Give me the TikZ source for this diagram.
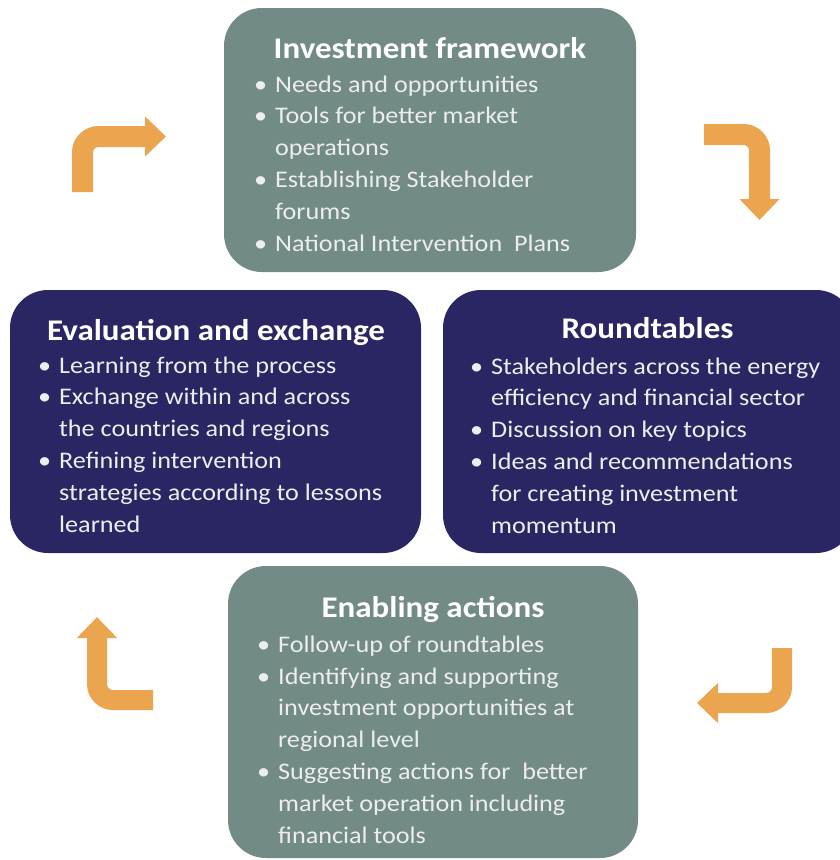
\documentclass[tikz,border=0pt]{standalone}
\usepackage{fontspec}
\usepackage{xcolor}
\setmainfont{Carlito}
\newfontfamily\boxfont{Carlito}[FakeStretch=1.1]
\usetikzlibrary{arrows.meta}
\definecolor{slate}{HTML}{738B87}
\definecolor{navy}{HTML}{2A2663}
\definecolor{amber}{HTML}{EBA54F}
\newcommand{\bul}{\makebox[21pt][l]{\textbullet}}
\newcommand{\gap}{\hspace*{21pt}}

\begin{document}
\begin{tikzpicture}[x=1pt, y=-1pt,
	box/.style={rounded corners=38pt, minimum width=411pt, minimum height=263pt, inner sep=0pt},
	head/.style={font=\boxfont\fontsize{30}{36}\selectfont\bfseries, text=white, anchor=base, inner sep=0pt},
	items/.style={font=\boxfont\fontsize{23.8}{31.8}\selectfont, text=white!93!black, align=left, anchor=base west, inner sep=0pt},
	turn/.style={draw=amber, line width=21pt, rounded corners=16pt, -{Triangle[length=21pt,width=39pt]}}]
	\useasboundingbox (0,0) rectangle (840,860);
	
	\node[box, fill=slate, minimum width=412pt, minimum height=264pt](framework) at (430,140){};
	\node[box, fill=navy](evaluation) at (215.5,421.5){};
	\node[box, fill=navy](roundtables) at (648.5,421.5){};
	\node[box, fill=slate, minimum width=410pt, minimum height=292pt](enabling) at (433,712){};
	
	\node[head](frameworkhead) at (430,58){Investment framework};
	\node[items](frameworkitems) at (254,251){\bul Needs and opportunities\\
		\bul Tools for better market\\
		\gap operations\\
		\bul Establishing Stakeholder\\
		\gap forums\\
		\bul National Intervention\ \ Plans};
	
	\node[head](evaluationhead) at (216,340){Evaluation and exchange};
	\node[items](evaluationitems) at (38,532){\bul Learning from the process\\
		\bul Exchange within and across\\
		\gap the countries and regions\\
		\bul Refining intervention\\
		\gap strategies according to lessons\\
		\gap learned};
	
	\node[head](roundtableshead) at (647.5,338){Roundtables};
	\node[items](roundtablesitems) at (470,533){\bul Stakeholders across the energy\\
		\gap efficiency and financial sector\\
		\bul Discussion on key topics\\
		\bul Ideas and recommendations\\
		\gap for creating investment\\
		\gap momentum};
	
	\node[head](enablinghead) at (433,617){Enabling actions};
	\node[items](enablingitems) at (257,843){\bul Follow-up of roundtables\\
		\bul Identifying and supporting\\
		\gap investment opportunities at\\
		\gap regional level\\
		\bul Suggesting actions for\ \ better\\
		\gap market operation including\\
		\gap financial tools};
	
	\coordinate(tlfoot) at (82.5,192);
	\coordinate(tlbend) at (82.5,136.5);
	\coordinate(tltip) at (166,136.5);
	\coordinate(trfoot) at (704,134.5);
	\coordinate(trbend) at (759.5,134.5);
	\coordinate(trtip) at (759.5,220);
	\coordinate(brfoot) at (782,648);
	\coordinate(brbend) at (782,703);
	\coordinate(brtip) at (697,703);
	\coordinate(blfoot) at (153,700);
	\coordinate(blbend) at (97,700);
	\coordinate(bltip) at (97,617);
	
	\draw[turn](tlfoot) -- (tlbend) -- (tltip);
	\draw[turn](trfoot) -- (trbend) -- (trtip);
	\draw[turn, line width=20pt](brfoot) -- (brbend) -- (brtip);
	\draw[turn, line width=20pt](blfoot) -- (blbend) -- (bltip);
\end{tikzpicture}
\end{document}
